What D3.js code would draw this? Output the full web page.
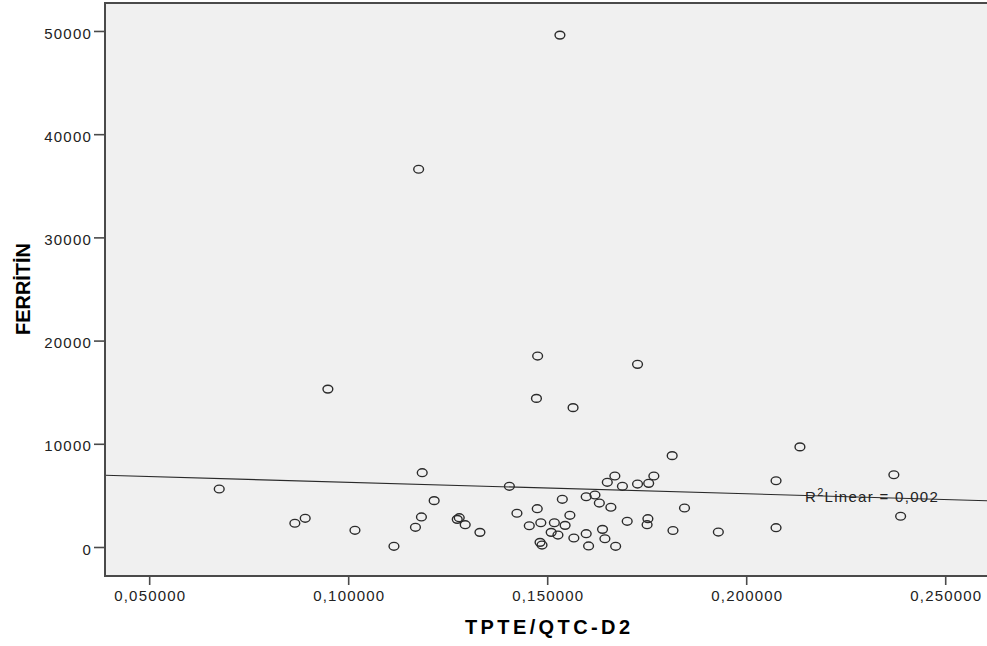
<!DOCTYPE html>
<html>
<head>
<meta charset="utf-8">
<script src="https://cdn.jsdelivr.net/npm/d3@7"></script>
<style>
  html, body { margin: 0; padding: 0; background: #fff; }
  svg { display: block; }
  .tick text { font-family: "Liberation Sans", Arial, sans-serif; font-size: 15px; letter-spacing: 1.2px; fill: #222; }
  .title { font-family: "Liberation Sans", Arial, sans-serif; font-weight: bold; font-size: 20px; fill: #000; }
  .fitlabel { font-family: "Liberation Sans", Arial, sans-serif; font-size: 15px; letter-spacing: 1.3px; fill: #222; }
</style>
</head>
<body>
<svg id="chart" width="987" height="646"></svg>
<script>
// TPTE/QTC-D2 (x) against ferritin (y), one record per patient
const tpteQtc = [
  0.1532, 0.1177, 0.0949, 0.1476, 0.1727, 0.1473, 0.1565, 0.2135, 0.1814, 0.1186,
  0.2371, 0.1670, 0.1768, 0.2075, 0.1651, 0.1755, 0.1727, 0.1689, 0.1405, 0.0676,
  0.1620, 0.1598, 0.1631, 0.1538, 0.1660, 0.1845, 0.1216, 0.1475, 0.0892, 0.0866,
  0.1184, 0.1424, 0.1557, 0.1274, 0.1279, 0.1294, 0.1169, 0.1017, 0.1331, 0.1455,
  0.1484, 0.1518, 0.1545, 0.1510, 0.1527, 0.1567, 0.1598, 0.1639, 0.1645, 0.1701,
  0.1753, 0.1751, 0.1816, 0.1930, 0.2075, 0.2388, 0.1482, 0.1487, 0.1115, 0.1604,
  0.1672
];
const ferritin = [
  49600, 36600, 15300, 18500, 17700, 14400, 13500, 9700, 8850, 7200,
  7000, 6880, 6880, 6420, 6270, 6170, 6100, 5880, 5880, 5620,
  5040, 4870, 4260, 4620, 3850, 3780, 4490, 3710, 2780, 2300,
  2910, 3270, 3070, 2680, 2840, 2160, 1910, 1620, 1420, 2060,
  2350, 2350, 2100, 1420, 1160, 870, 1290, 1710, 800, 2490,
  2740, 2160, 1600, 1450, 1870, 2980, 450, 190, 70, 100,
  70
];

// Linear fit shown on the chart
const fitIntercept = 7380;
const fitSlope = -11100;
const fitLabel = "0,002";

// Axis ticks
const xTicks = [0.05, 0.10, 0.15, 0.20, 0.25];
const yTicks = [0, 10000, 20000, 30000, 40000, 50000];
const xDomain = [0.0389, 0.2605];
const yDomain = [-2810, 52710];

const xTitle = "TPTE/QTC-D2";
const yTitle = "FERRİTİN";

const svg = d3.select("#chart");
const plot = { left: 105, top: 3, right: 987, bottom: 576 };

const x = d3.scaleLinear().domain(xDomain).range([plot.left, plot.right]);
const y = d3.scaleLinear().domain(yDomain).range([plot.bottom, plot.top]);

const locale = d3.formatLocale({ decimal: ",", thousands: ".", grouping: [3], currency: ["", ""] });
const fmtX = locale.format(".6f");
const fmtY = d3.format("d");

// plot background
svg.append("rect")
  .attr("x", plot.left).attr("y", plot.top)
  .attr("width", 990 - plot.left).attr("height", plot.bottom - plot.top)
  .attr("fill", "#f0f0f0");

// fit line across the full plot width
const fitY = v => fitIntercept + fitSlope * v;
svg.append("line")
  .attr("x1", x(xDomain[0])).attr("y1", y(fitY(xDomain[0])))
  .attr("x2", x(xDomain[1])).attr("y2", y(fitY(xDomain[1])))
  .attr("stroke", "#2a2a2a").attr("stroke-width", 1.1);

// points
svg.append("g").selectAll("ellipse")
  .data(tpteQtc.map((v, i) => [v, ferritin[i]]))
  .join("ellipse")
  .attr("cx", d => x(d[0]))
  .attr("cy", d => y(d[1]))
  .attr("rx", 4.9).attr("ry", 3.9)
  .attr("fill", "none")
  .attr("stroke", "#2b2b2b")
  .attr("stroke-width", 1.4);

// fit label
const lbl = svg.append("text").attr("class", "fitlabel")
  .attr("x", 805).attr("y", y(fitY(x.invert(805))) + 6.3);
lbl.append("tspan").text("R");
lbl.append("tspan").attr("font-size", "11px").attr("dy", -6).text("2");
lbl.append("tspan").attr("dy", 6).text("Linear = " + fitLabel);

// frame: left, top, bottom edges
svg.append("path")
  .attr("d", `M${990},${plot.top}H${plot.left}V${plot.bottom}H${990}`)
  .attr("fill", "none").attr("stroke", "#4a4a4a").attr("stroke-width", 2);

// axes
const gx = svg.append("g").attr("transform", `translate(0,${plot.bottom})`)
  .call(d3.axisBottom(x).tickValues(xTicks).tickFormat(fmtX).tickSize(9).tickPadding(5));
const gy = svg.append("g").attr("transform", `translate(${plot.left},0)`)
  .call(d3.axisLeft(y).tickValues(yTicks).tickFormat(fmtY).tickSize(11).tickPadding(2));
[gx, gy].forEach(g => {
  g.select(".domain").remove();
  g.selectAll(".tick line").attr("stroke", "#4a4a4a").attr("stroke-width", 1.6);
  g.selectAll(".tick text").attr("font-family", null).attr("font-size", null);
});
gy.selectAll(".tick text").attr("dy", "0.48em");
gx.selectAll(".tick text").attr("dx", "0.6px");

// axis titles
svg.append("text").attr("class", "title")
  .attr("x", 547.5).attr("y", 634)
  .attr("text-anchor", "middle")
  .attr("textLength", 165).attr("lengthAdjust", "spacing")
  .text(xTitle);
svg.append("text").attr("class", "title")
  .attr("transform", "translate(29.5,289) rotate(-90)")
  .attr("text-anchor", "middle")
  .attr("textLength", 92).attr("lengthAdjust", "spacing")
  .text(yTitle);
</script>
</body>
</html>
